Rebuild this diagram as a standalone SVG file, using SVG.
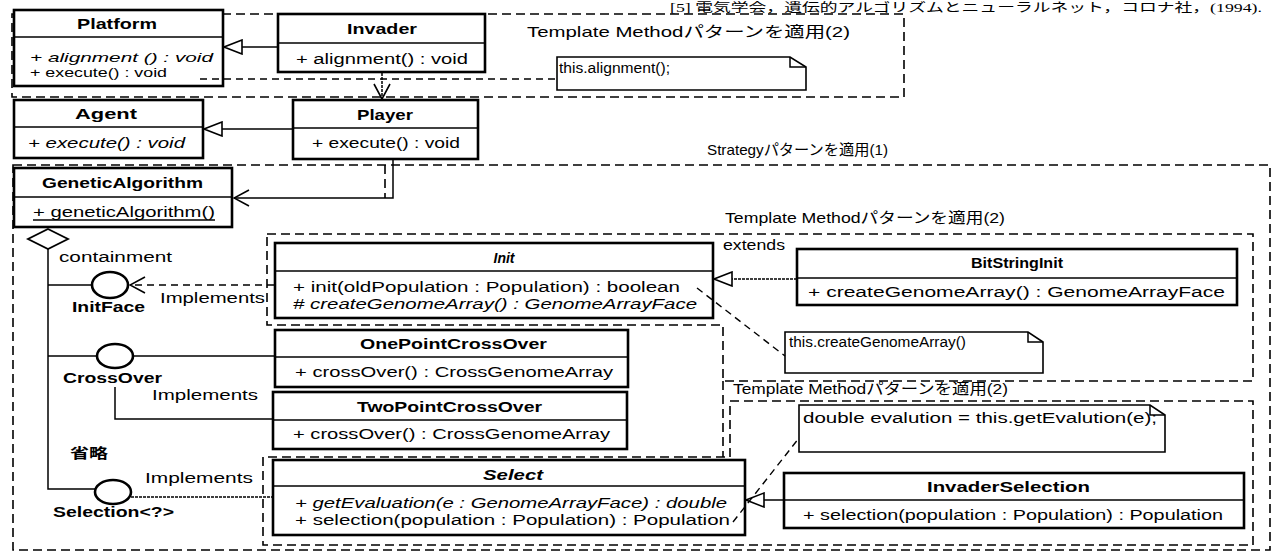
<svg xmlns="http://www.w3.org/2000/svg" width="1278" height="552" viewBox="0 0 1278 552">
<style>
.bg{fill:#fff}
.box{fill:#fff;stroke:#000;stroke-width:2.6}
.dv{stroke:#000;stroke-width:1.5}
.t{font-family:"Liberation Sans",Arial,"Noto Sans CJK JP",sans-serif;font-size:14px;fill:#000}
.s13{font-size:13.5px}
.b{font-weight:bold}
.i{font-style:italic}
.jp{font-size:15px}
.cap{font-family:"Liberation Serif","Noto Sans CJK JP",serif;font-size:12.5px;fill:#000}
.frame{fill:none;stroke:#000;stroke-width:1.6;stroke-dasharray:9 5}
.ln{fill:none;stroke:#000;stroke-width:1.5}
.dash{fill:none;stroke:#000;stroke-width:1.4;stroke-dasharray:7 5}
.dense{fill:none;stroke:#000;stroke-width:1.5;stroke-dasharray:3 1}
.note{fill:#fff;stroke:#000;stroke-width:1.6}
.lolli{fill:#fff;stroke:#000;stroke-width:2.6}
</style>
<defs>
<marker id="tri" markerUnits="userSpaceOnUse" viewBox="0 0 20 16" markerWidth="20" markerHeight="16" refX="19" refY="8" orient="auto">
<path d="M1,1 L19,8 L1,15 Z" fill="#fff" stroke="#000" stroke-width="1.6"/>
</marker>
<marker id="open" markerUnits="userSpaceOnUse" viewBox="0 0 17 18" markerWidth="17" markerHeight="18" refX="16" refY="9" orient="auto">
<path d="M1,1 L16,9 L1,17" fill="none" stroke="#000" stroke-width="1.6"/>
</marker>
</defs>
<rect class="bg" x="0" y="0" width="1278" height="552"/>
<text class="cap" x="670" y="11.5" textLength="592" lengthAdjust="spacingAndGlyphs">[5] 電気学会，遺伝的アルゴリズムとニューラルネット，コロナ社，(1994).</text>

<g id="frames">
<rect class="frame" x="12" y="14" width="892" height="83"/>
<text class="t jp" x="527" y="37" textLength="323" lengthAdjust="spacingAndGlyphs">Template Methodパターンを適用(2)</text>
<rect class="frame" x="13" y="165" width="1257" height="385"/>
<line class="frame" x1="385" y1="165" x2="385" y2="198"/>
<text class="t jp" x="707" y="155" textLength="181" lengthAdjust="spacingAndGlyphs">Strategyパターンを適用(1)</text>
<path class="frame" d="M267,234 H1253 V381 H723 V325 H267 Z"/>
<text class="t jp" x="725" y="223" textLength="280" lengthAdjust="spacingAndGlyphs">Template Methodパターンを適用(2)</text>
<path class="frame" d="M723,381 V457"/>
<path class="frame" d="M730,401 H1253 V545 H263 V457 H730 Z"/>
<text class="t jp" x="733" y="394" textLength="275" lengthAdjust="spacingAndGlyphs">Template Methodパターンを適用(2)</text>
</g>

<g id="Platform">
<rect class="box" x="14" y="10" width="209" height="76"/>
<line class="dv" x1="14" y1="37" x2="223" y2="37"/>
<text class="t b" x="77" y="29" textLength="80" lengthAdjust="spacingAndGlyphs">Platform</text>
<text class="t s13 i" x="30" y="62" textLength="183" lengthAdjust="spacingAndGlyphs">+ alignment () : void</text>
<text class="t s13" x="30" y="77" textLength="137" lengthAdjust="spacingAndGlyphs">+ execute() : void</text>
</g>

<g id="Invader">
<rect class="box" x="278" y="14" width="207" height="58"/>
<line class="dv" x1="278" y1="43" x2="485" y2="43"/>
<text class="t b" x="347" y="34" textLength="70" lengthAdjust="spacingAndGlyphs">Invader</text>
<text class="t" x="296" y="64" textLength="172" lengthAdjust="spacingAndGlyphs">+ alignment() : void</text>
</g>

<g id="note-alignment">
<path class="note" d="M557,57 H790 L806,67 V90 H557 Z"/>
<path class="ln" d="M790,57 V67 H806"/>
<text class="t" x="559" y="73" textLength="111" lengthAdjust="spacingAndGlyphs">this.alignment();</text>
</g>

<g id="Agent">
<rect class="box" x="14" y="100" width="189" height="58"/>
<line class="dv" x1="14" y1="127" x2="203" y2="127"/>
<text class="t b" x="75" y="119" textLength="62" lengthAdjust="spacingAndGlyphs">Agent</text>
<text class="t i" x="28" y="148" textLength="157" lengthAdjust="spacingAndGlyphs">+ execute() : void</text>
</g>

<g id="Player">
<rect class="box" x="293" y="100" width="185" height="59"/>
<line class="dv" x1="293" y1="128" x2="478" y2="128"/>
<text class="t b" x="357" y="120" textLength="56" lengthAdjust="spacingAndGlyphs">Player</text>
<text class="t" x="312" y="148" textLength="148" lengthAdjust="spacingAndGlyphs">+ execute() : void</text>
</g>

<g id="GeneticAlgorithm">
<rect class="box" x="14" y="168" width="218" height="59"/>
<line class="dv" x1="14" y1="197" x2="232" y2="197"/>
<text class="t b" x="42" y="188" textLength="161" lengthAdjust="spacingAndGlyphs">GeneticAlgorithm</text>
<text class="t" x="33" y="217" textLength="182" lengthAdjust="spacingAndGlyphs">+ geneticAlgorithm()</text>
<line class="dv" x1="33" y1="220" x2="215" y2="220"/>
</g>

<g id="Init">
<rect class="box" x="275" y="243" width="438" height="75"/>
<line class="dv" x1="275" y1="271" x2="713" y2="271"/>
<text class="t b i" x="504" y="263" text-anchor="middle">Init</text>
<text class="t" x="293" y="292" textLength="387" lengthAdjust="spacingAndGlyphs">+ init(oldPopulation : Population) : boolean</text>
<text class="t i" x="293" y="309" textLength="404" lengthAdjust="spacingAndGlyphs"># createGenomeArray() : GenomeArrayFace</text>
</g>

<g id="BitStringInit">
<rect class="box" x="797" y="249" width="440" height="56"/>
<line class="dv" x1="797" y1="278" x2="1237" y2="278"/>
<text class="t b" x="1017" y="268" text-anchor="middle" textLength="92" lengthAdjust="spacingAndGlyphs">BitStringInit</text>
<text class="t" x="808" y="297" textLength="417" lengthAdjust="spacingAndGlyphs">+ createGenomeArray() : GenomeArrayFace</text>
</g>

<g id="note-createGenomeArray">
<path class="note" d="M785,332 H1028 L1043,342 V373 H785 Z"/>
<path class="ln" d="M1028,332 V342 H1043"/>
<text class="t" x="789" y="347" textLength="177" lengthAdjust="spacingAndGlyphs">this.createGenomeArray()</text>
</g>

<g id="OnePointCrossOver">
<rect class="box" x="275" y="330" width="353" height="57"/>
<line class="dv" x1="275" y1="357" x2="628" y2="357"/>
<text class="t b" x="360" y="349" textLength="187" lengthAdjust="spacingAndGlyphs">OnePointCrossOver</text>
<text class="t" x="295" y="377" textLength="318" lengthAdjust="spacingAndGlyphs">+ crossOver() : CrossGenomeArray</text>
</g>

<g id="TwoPointCrossOver">
<rect class="box" x="273" y="392" width="354" height="57"/>
<line class="dv" x1="273" y1="420" x2="627" y2="420"/>
<text class="t b" x="357" y="412" textLength="185" lengthAdjust="spacingAndGlyphs">TwoPointCrossOver</text>
<text class="t" x="293" y="439" textLength="317" lengthAdjust="spacingAndGlyphs">+ crossOver() : CrossGenomeArray</text>
</g>

<g id="Select">
<rect class="box" x="273" y="460" width="472" height="75"/>
<line class="dv" x1="273" y1="486" x2="745" y2="486"/>
<text class="t b i" x="483" y="480" textLength="60" lengthAdjust="spacingAndGlyphs">Select</text>
<text class="t i" x="295" y="508" textLength="432" lengthAdjust="spacingAndGlyphs">+ getEvaluation(e : GenomeArrayFace) : double</text>
<text class="t" x="295" y="525" textLength="435" lengthAdjust="spacingAndGlyphs">+ selection(population : Population) : Population</text>
</g>

<g id="note-evalution">
<path class="note" d="M799,405 H1150 L1165,415 V452 H799 Z"/>
<path class="ln" d="M1150,405 V415 H1165"/>
<text class="t" x="803" y="423" textLength="354" lengthAdjust="spacingAndGlyphs">double evalution = this.getEvalution(e);</text>
</g>

<g id="InvaderSelection">
<rect class="box" x="784" y="473" width="460" height="55"/>
<line class="dv" x1="784" y1="500" x2="1244" y2="500"/>
<text class="t b" x="927" y="492" textLength="163" lengthAdjust="spacingAndGlyphs">InvaderSelection</text>
<text class="t" x="803" y="520" textLength="420" lengthAdjust="spacingAndGlyphs">+ selection(population : Population) : Population</text>
</g>

<g id="InitFace">
<ellipse class="lolli" cx="110" cy="285" rx="18" ry="13"/>
<text class="t b" x="72" y="312" textLength="73" lengthAdjust="spacingAndGlyphs">InitFace</text>
</g>

<g id="CrossOver">
<ellipse class="lolli" cx="115" cy="356" rx="18" ry="12"/>
<text class="t b" x="63" y="383" textLength="99" lengthAdjust="spacingAndGlyphs">CrossOver</text>
</g>

<g id="Selection">
<ellipse class="lolli" cx="113" cy="492" rx="18" ry="12"/>
<text class="t b" x="53" y="517" textLength="121" lengthAdjust="spacingAndGlyphs">Selection&lt;?&gt;</text>
</g>

<g id="connectors">
<line class="ln" x1="278" y1="47" x2="224" y2="47" marker-end="url(#tri)"/>
<line class="ln" x1="293" y1="129" x2="204" y2="129" marker-end="url(#tri)"/>
<line class="dense" x1="382" y1="73" x2="382" y2="99" marker-end="url(#open)"/>
<line class="dash" x1="200" y1="79" x2="557" y2="79"/>
<polyline class="ln" points="393,160 393,198 234,198" marker-end="url(#open)"/>
<polygon points="48,229 68,239 48,249 28,239" fill="#fff" stroke="#000" stroke-width="1.8"/>
<polyline class="ln" points="48,249 48,489 95,489"/>
<line class="ln" x1="48" y1="285" x2="92" y2="285"/>
<line class="ln" x1="48" y1="356" x2="97" y2="356"/>
<line class="dash" x1="274" y1="285" x2="130" y2="285" marker-end="url(#open)"/>
<line class="ln" x1="133" y1="356" x2="275" y2="356"/>
<polyline class="ln" points="115,387 115,419 273,419"/>
<line class="dense" x1="131" y1="497" x2="273" y2="497"/>
<line class="dense" x1="797" y1="279" x2="714" y2="279" marker-end="url(#tri)"/>
<line class="dash" x1="697" y1="288" x2="785" y2="356"/>
<line class="ln" x1="784" y1="500" x2="746" y2="500" marker-end="url(#tri)"/>
<line class="dash" x1="733" y1="522" x2="799" y2="438"/>
<text class="t" x="59" y="262" textLength="113" lengthAdjust="spacingAndGlyphs">containment</text>
<text class="t" x="160" y="303" textLength="105" lengthAdjust="spacingAndGlyphs">Implements</text>
<text class="t" x="723" y="250" textLength="62" lengthAdjust="spacingAndGlyphs">extends</text>
<text class="t" x="152" y="400" textLength="106" lengthAdjust="spacingAndGlyphs">Implements</text>
<text class="t b" x="70" y="458" textLength="38" lengthAdjust="spacingAndGlyphs">省略</text>
<text class="t" x="145" y="483" textLength="108" lengthAdjust="spacingAndGlyphs">Implements</text>
</g>
</svg>
